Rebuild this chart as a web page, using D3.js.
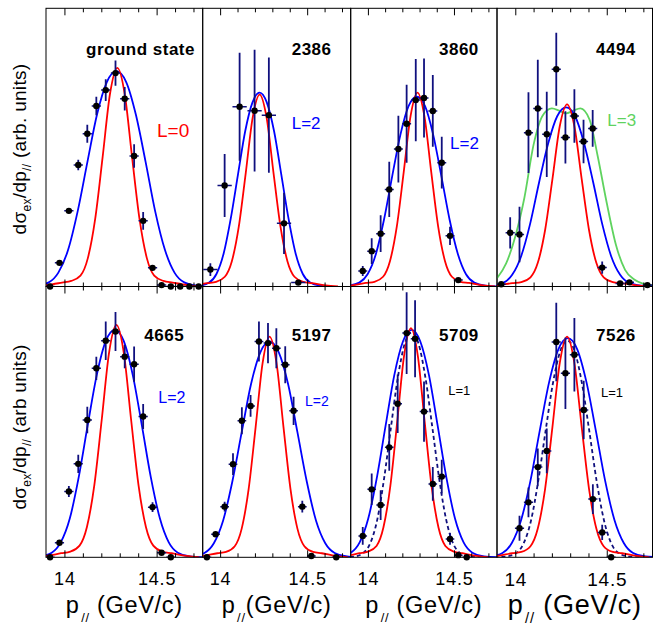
<!DOCTYPE html>
<html>
<head>
<meta charset="utf-8">
<script src="https://cdn.jsdelivr.net/npm/d3@7"></script>
<style>
  body { margin: 0; background: #fff; }
  svg { display: block; font-family: "Liberation Sans", Arial, Helvetica, sans-serif; }
</style>
</head>
<body>
<svg id="chart" width="657" height="627"></svg>
<script>
// ---- measured points: p_par (GeV/c), yield (arb.), vertical error
const pts0X = [13.922, 13.973, 14.024, 14.075, 14.124, 14.173, 14.224, 14.277, 14.327, 14.378, 14.427, 14.478, 14.527, 14.577, 14.628, 14.678, 14.728];
const pts0Y = [0, 0.085, 0.272, 0.437, 0.549, 0.649, 0.706, 0.767, 0.675, 0.469, 0.236, 0.067, 0.005, 0, 0, 0, 0];
const pts0E = [0, 0, 0.009, 0.019, 0.032, 0.033, 0.039, 0.045, 0.042, 0.042, 0.032, 0.008, 0, 0, 0, 0, 0];

const pts1X = [13.944, 14.026, 14.112, 14.198, 14.28, 14.367, 14.449];
const pts1Y = [0.061, 0.363, 0.646, 0.632, 0.616, 0.227, 0.014];
const pts1E = [0.023, 0.113, 0.194, 0.219, 0.207, 0.11, 0.005];

const pts2X = [13.970, 14.022, 14.074, 14.124, 14.177, 14.225, 14.278, 14.326, 14.377, 14.429, 14.477, 14.525];
const pts2Y = [0.056, 0.127, 0.19, 0.349, 0.494, 0.585, 0.670, 0.678, 0.631, 0.445, 0.182, 0.023];
const pts2E = [0.018, 0.046, 0.066, 0.099, 0.12, 0.14, 0.148, 0.142, 0.129, 0.093, 0.033, 0.006];

const pts3X = [13.923, 13.972, 14.023, 14.072, 14.123, 14.172, 14.224, 14.274, 14.323, 14.373, 14.423, 14.475, 14.573, 14.624, 14.722];
const pts3Y = [0.008, 0.193, 0.187, 0.553, 0.640, 0.547, 0.781, 0.536, 0.613, 0.521, 0.568, 0.068, 0.011, 0.015, 0.005];
const pts3E = [0, 0.056, 0.1, 0.145, 0.175, 0.153, 0.131, 0.094, 0.096, 0.078, 0.066, 0.022, 0, 0, 0];

const pts4X = [13.922, 13.973, 14.024, 14.075, 14.124, 14.173, 14.224, 14.277, 14.327, 14.378, 14.427, 14.478, 14.527, 14.577];
const pts4Y = [0, 0.054, 0.243, 0.345, 0.507, 0.698, 0.80, 0.834, 0.741, 0.713, 0.52, 0.185, 0.017, 0];
const pts4E = [0, 0.006, 0.02, 0.034, 0.049, 0.043, 0.071, 0.072, 0.043, 0.065, 0.046, 0.018, 0.005, 0];

const pts5X = [13.924, 13.974, 14.026, 14.074, 14.125, 14.175, 14.223, 14.275, 14.323, 14.374, 14.422, 14.472, 14.524, 14.667];
const pts5Y = [0, 0.085, 0.187, 0.344, 0.504, 0.559, 0.797, 0.791, 0.772, 0.711, 0.541, 0.187, 0.005, 0];
const pts5E = [0, 0.006, 0.018, 0.04, 0.05, 0.04, 0.074, 0.074, 0.074, 0.068, 0.052, 0.022, 0, 0];

const pts6X = [13.970, 14.022, 14.074, 14.124, 14.173, 14.225, 14.274, 14.326, 14.377, 14.429, 14.477, 14.525, 14.574];
const pts6Y = [0.079, 0.251, 0.193, 0.406, 0.567, 0.828, 0.807, 0.538, 0.271, 0.298, 0.068, 0.008, 0];
const pts6E = [0.033, 0.058, 0.055, 0.086, 0.108, 0.151, 0.142, 0.111, 0.062, 0.062, 0.022, 0, 0];

const pts7X = [14.023, 14.072, 14.123, 14.172, 14.224, 14.274, 14.323, 14.374, 14.424, 14.475, 14.524];
const pts7Y = [0.107, 0.203, 0.333, 0.393, 0.795, 0.68, 0.748, 0.544, 0.215, 0.092, 0];
const pts7E = [0.046, 0.055, 0.069, 0.083, 0.145, 0.132, 0.136, 0.108, 0.055, 0.028, 0];

// horizontal half-width of the bins per panel
const binHalf = [0.025, 0.041, 0.026, 0.025, 0.025, 0.025, 0.025, 0.025];

// ---- calculated momentum distributions
const redX0 = [13.837, 13.907, 13.987, 14.037, 14.087, 14.127, 14.167, 14.207, 14.247, 14.287, 14.327, 14.367, 14.407, 14.447, 14.487, 14.537, 14.587, 14.667, 14.737];
const redY0 = [0, 0.005, 0.014, 0.020, 0.039, 0.102, 0.244, 0.464, 0.692, 0.786, 0.692, 0.464, 0.244, 0.102, 0.039, 0.020, 0.014, 0.005, 0];
const blueX0 = [13.757, 13.845, 13.915, 13.967, 14.020, 14.072, 14.125, 14.177, 14.230, 14.282, 14.335, 14.387, 14.440, 14.492, 14.545, 14.597, 14.650, 14.720, 14.807];
const blueY0 = [0, 0.003, 0.015, 0.050, 0.132, 0.271, 0.449, 0.619, 0.735, 0.774, 0.735, 0.619, 0.449, 0.271, 0.132, 0.050, 0.015, 0.003, 0];

const redX1 = [13.777, 13.847, 13.927, 13.977, 14.027, 14.067, 14.107, 14.147, 14.187, 14.227, 14.267, 14.307, 14.347, 14.387, 14.427, 14.477, 14.527, 14.607, 14.677];
const redY1 = [0, 0.004, 0.012, 0.017, 0.035, 0.090, 0.214, 0.407, 0.607, 0.69, 0.607, 0.407, 0.214, 0.090, 0.035, 0.017, 0.012, 0.004, 0];
const blueX1 = [13.813, 13.882, 13.937, 13.979, 14.020, 14.061, 14.103, 14.144, 14.186, 14.227, 14.268, 14.310, 14.351, 14.393, 14.434, 14.475, 14.517, 14.572, 14.641];
const blueY1 = [0, 0.003, 0.014, 0.045, 0.118, 0.244, 0.404, 0.558, 0.662, 0.697, 0.662, 0.558, 0.404, 0.244, 0.118, 0.045, 0.014, 0.003, 0];

const redX2 = [13.838, 13.908, 13.988, 14.038, 14.088, 14.128, 14.168, 14.208, 14.248, 14.288, 14.328, 14.368, 14.408, 14.448, 14.488, 14.538, 14.588, 14.668, 14.738];
const redY2 = [0, 0.004, 0.013, 0.017, 0.035, 0.091, 0.216, 0.411, 0.613, 0.697, 0.613, 0.411, 0.216, 0.091, 0.035, 0.017, 0.013, 0.004, 0];
const blueX2 = [13.807, 13.887, 13.950, 13.998, 14.046, 14.093, 14.141, 14.189, 14.236, 14.284, 14.332, 14.379, 14.427, 14.475, 14.523, 14.570, 14.618, 14.682, 14.761];
const blueY2 = [0, 0.003, 0.014, 0.044, 0.116, 0.239, 0.396, 0.546, 0.648, 0.682, 0.648, 0.546, 0.396, 0.239, 0.116, 0.044, 0.014, 0.003, 0];

const redX3 = [13.833, 13.903, 13.983, 14.033, 14.083, 14.123, 14.163, 14.203, 14.243, 14.283, 14.323, 14.363, 14.403, 14.443, 14.483, 14.533, 14.583, 14.663, 14.733];
const redY3 = [0, 0.004, 0.012, 0.016, 0.033, 0.085, 0.203, 0.386, 0.576, 0.655, 0.576, 0.386, 0.203, 0.085, 0.033, 0.016, 0.012, 0.004, 0];
const blueX3 = [13.786, 13.868, 13.934, 13.983, 14.032, 14.081, 14.130, 14.180, 14.229, 14.278, 14.327, 14.376, 14.426, 14.475, 14.524, 14.573, 14.622, 14.688, 14.770];
const blueY3 = [0, 0.003, 0.013, 0.042, 0.109, 0.225, 0.374, 0.515, 0.612, 0.644, 0.612, 0.515, 0.374, 0.225, 0.109, 0.042, 0.013, 0.003, 0];
const greenX3 = [13.9, 13.95, 14.0, 14.05, 14.1, 14.15, 14.2, 14.24, 14.278, 14.316, 14.356, 14.406, 14.45, 14.5, 14.55, 14.6, 14.65, 14.7, 14.75];
const greenY3 = [0.03, 0.083, 0.18, 0.32, 0.51, 0.615, 0.64, 0.632, 0.622, 0.632, 0.64, 0.6, 0.47, 0.3, 0.15, 0.06, 0.025, 0.01, 0.004];

const redX4 = [13.832, 13.902, 13.982, 14.032, 14.082, 14.122, 14.162, 14.202, 14.242, 14.282, 14.322, 14.362, 14.402, 14.442, 14.482, 14.532, 14.582, 14.662, 14.732];
const redY4 = [0, 0.005, 0.015, 0.021, 0.043, 0.112, 0.266, 0.506, 0.755, 0.858, 0.755, 0.506, 0.266, 0.112, 0.043, 0.021, 0.015, 0.005, 0];
const blueX4 = [13.784, 13.866, 13.931, 13.980, 14.029, 14.077, 14.126, 14.175, 14.224, 14.273, 14.322, 14.371, 14.420, 14.469, 14.518, 14.566, 14.615, 14.681, 14.762];
const blueY4 = [0, 0.003, 0.017, 0.055, 0.143, 0.294, 0.487, 0.672, 0.798, 0.84, 0.798, 0.672, 0.487, 0.294, 0.143, 0.055, 0.017, 0.003, 0];

const redX5 = [13.834, 13.904, 13.984, 14.034, 14.084, 14.124, 14.164, 14.204, 14.244, 14.284, 14.324, 14.364, 14.404, 14.444, 14.484, 14.534, 14.584, 14.664, 14.734];
const redY5 = [0, 0.005, 0.015, 0.020, 0.041, 0.106, 0.253, 0.481, 0.717, 0.815, 0.717, 0.481, 0.253, 0.106, 0.041, 0.020, 0.015, 0.005, 0];
const blueX5 = [13.750, 13.839, 13.910, 13.964, 14.017, 14.070, 14.124, 14.177, 14.231, 14.284, 14.337, 14.391, 14.444, 14.498, 14.551, 14.604, 14.658, 14.729, 14.818];
const blueY5 = [0, 0.003, 0.016, 0.052, 0.135, 0.279, 0.462, 0.638, 0.757, 0.797, 0.757, 0.638, 0.462, 0.279, 0.135, 0.052, 0.016, 0.003, 0];

const redX6 = [13.80, 13.87, 13.95, 14.00, 14.05, 14.09, 14.13, 14.17, 14.21, 14.25, 14.29, 14.33, 14.37, 14.41, 14.45, 14.50, 14.55, 14.63, 14.70];
const redY6 = [0, 0.005, 0.015, 0.021, 0.042, 0.110, 0.262, 0.499, 0.744, 0.846, 0.744, 0.499, 0.262, 0.110, 0.042, 0.021, 0.015, 0.005, 0];
const blueX6 = [13.750, 13.834, 13.901, 13.952, 14.002, 14.052, 14.103, 14.153, 14.204, 14.254, 14.304, 14.355, 14.405, 14.456, 14.506, 14.556, 14.607, 14.674, 14.758];
const blueY6 = [0, 0.003, 0.017, 0.055, 0.143, 0.294, 0.487, 0.672, 0.798, 0.84, 0.798, 0.672, 0.487, 0.294, 0.143, 0.055, 0.017, 0.003, 0];
const dashX6 = [13.855, 13.922, 13.975, 14.015, 14.055, 14.094, 14.134, 14.174, 14.214, 14.254, 14.294, 14.334, 14.374, 14.414, 14.454, 14.493, 14.533, 14.587, 14.653];
const dashY6 = [0, 0.003, 0.017, 0.054, 0.141, 0.291, 0.481, 0.664, 0.789, 0.83, 0.789, 0.664, 0.481, 0.291, 0.141, 0.054, 0.017, 0.003, 0];

const redX7 = [13.833, 13.903, 13.983, 14.033, 14.083, 14.123, 14.163, 14.203, 14.243, 14.283, 14.323, 14.363, 14.403, 14.443, 14.483, 14.533, 14.583, 14.663, 14.733];
const redY7 = [0, 0.005, 0.015, 0.020, 0.041, 0.106, 0.253, 0.481, 0.717, 0.815, 0.717, 0.481, 0.253, 0.106, 0.041, 0.020, 0.015, 0.005, 0];
const blueX7 = [13.777, 13.862, 13.930, 13.981, 14.032, 14.083, 14.134, 14.185, 14.236, 14.287, 14.338, 14.389, 14.440, 14.491, 14.542, 14.593, 14.644, 14.712, 14.797];
const blueY7 = [0, 0.003, 0.016, 0.053, 0.138, 0.283, 0.469, 0.647, 0.769, 0.809, 0.769, 0.647, 0.469, 0.283, 0.138, 0.053, 0.016, 0.003, 0];
const dashX7 = [13.886, 13.953, 14.006, 14.046, 14.086, 14.125, 14.165, 14.205, 14.245, 14.285, 14.325, 14.365, 14.405, 14.445, 14.485, 14.524, 14.564, 14.618, 14.684];
const dashY7 = [0, 0.003, 0.016, 0.052, 0.136, 0.28, 0.464, 0.64, 0.76, 0.80, 0.76, 0.64, 0.464, 0.28, 0.136, 0.052, 0.016, 0.003, 0];

// ---- labels
const stateLabels = ["ground state", "2386", "3860", "4494", "4665", "5197", "5709", "7526"];
const lLabels = ["L=0", "L=2", "L=2", "L=3", "L=2", "L=2", "L=1", "L=1"];
const majorTicks = [14, 14.5];
const minorTicks = [14.1, 14.2, 14.3, 14.4, 14.6, 14.7];
const pDomain = [13.9, 14.75];

const RED = '#ff0000', BLUE = '#0000ff', GREEN = '#5fd35f', NAVY = '#10107e';

const ptsX = [pts0X, pts1X, pts2X, pts3X, pts4X, pts5X, pts6X, pts7X];
const ptsY = [pts0Y, pts1Y, pts2Y, pts3Y, pts4Y, pts5Y, pts6Y, pts7Y];
const ptsE = [pts0E, pts1E, pts2E, pts3E, pts4E, pts5E, pts6E, pts7E];
const curves = [
  [{ x: blueX0, y: blueY0, c: BLUE }, { x: redX0, y: redY0, c: RED }],
  [{ x: blueX1, y: blueY1, c: BLUE }, { x: redX1, y: redY1, c: RED }],
  [{ x: blueX2, y: blueY2, c: BLUE }, { x: redX2, y: redY2, c: RED }],
  [{ x: greenX3, y: greenY3, c: GREEN }, { x: blueX3, y: blueY3, c: BLUE }, { x: redX3, y: redY3, c: RED }],
  [{ x: blueX4, y: blueY4, c: BLUE }, { x: redX4, y: redY4, c: RED }],
  [{ x: blueX5, y: blueY5, c: BLUE }, { x: redX5, y: redY5, c: RED }],
  [{ x: blueX6, y: blueY6, c: BLUE }, { x: dashX6, y: dashY6, c: NAVY, dash: true }, { x: redX6, y: redY6, c: RED }],
  [{ x: blueX7, y: blueY7, c: BLUE }, { x: dashX7, y: dashY7, c: NAVY, dash: true }, { x: redX7, y: redY7, c: RED }],
];

// ---- layout
const colEdges = [46, 202.7, 350.7, 497, 652.5];
const rowEdges = [8.3, 286.5, 557.3];
const stateLabelPos = [[86, 55], [291.7, 55], [439, 55], [596, 55], [144.3, 341], [291.7, 341], [439, 341], [596, 341]];
const lLabelPos = [[157, 136.7, 19, RED], [291.7, 129.3, 17, BLUE], [450, 149, 17, BLUE], [607.3, 126, 17, GREEN],
  [158.3, 402.7, 16, BLUE], [305, 406, 14, BLUE], [448.3, 395, 13, '#000'], [601, 397.3, 13, '#000']];

const svg = d3.select('#chart');
svg.append('rect').attr('width', 657).attr('height', 627).attr('fill', '#fff');
const defs = svg.append('defs');

for (let i = 0; i < 8; i += 1) {
  const col = i % 4;
  const row = Math.floor(i / 4);
  const x0 = colEdges[col], x1 = colEdges[col + 1];
  const yTop = rowEdges[row], yBot = rowEdges[row + 1];
  const x = d3.scaleLinear().domain(pDomain).range([x0, x1]);
  const y = d3.scaleLinear().domain([0, 1]).range([yBot, yTop]);
  const g = svg.append('g');

  defs.append('clipPath').attr('id', `clip${i}`)
    .append('rect').attr('x', x0).attr('y', yTop).attr('width', x1 - x0).attr('height', yBot - yTop);

  const line = d3.line().x((d) => x(d[0])).y((d) => y(d[1])).curve(d3.curveMonotoneX);
  const cg = g.append('g').attr('clip-path', `url(#clip${i})`);
  curves[i].forEach((cv) => {
    cg.append('path')
      .attr('d', line(d3.zip(cv.x, cv.y)))
      .attr('fill', 'none')
      .attr('stroke', cv.c)
      .attr('stroke-width', 1.8)
      .attr('stroke-dasharray', cv.dash ? '4,3' : null);
  });

  // data points
  const pts = d3.zip(ptsX[i], ptsY[i], ptsE[i]);
  const pg = g.append('g').attr('clip-path', `url(#clip${i})`);
  pg.selectAll('line.ey').data(pts.filter((d) => d[2] > 0)).join('line')
    .attr('x1', (d) => x(d[0])).attr('x2', (d) => x(d[0]))
    .attr('y1', (d) => y(d[1] - d[2])).attr('y2', (d) => y(d[1] + d[2]))
    .attr('stroke', NAVY).attr('stroke-width', 1.8);
  pg.selectAll('line.ex').data(pts).join('line')
    .attr('x1', (d) => x(d[0] - binHalf[i])).attr('x2', (d) => x(d[0] + binHalf[i]))
    .attr('y1', (d) => y(d[1])).attr('y2', (d) => y(d[1]))
    .attr('stroke', NAVY).attr('stroke-width', 1.5);
  g.selectAll('circle').data(pts).join('circle')
    .attr('cx', (d) => x(d[0])).attr('cy', (d) => y(d[1])).attr('r', 3.2)
    .attr('fill', '#000');

  // ticks on top and bottom edges, pointing inwards
  const bottom = g.append('g').attr('transform', `translate(0,${yBot})`);
  bottom.append('g').call(d3.axisBottom(x).tickValues(minorTicks).tickSize(-4).tickFormat(''));
  const bMaj = bottom.append('g').call(d3.axisBottom(x).tickValues(majorTicks).tickSize(-7).tickPadding(15)
    .tickFormat((d) => (row === 1 ? String(d) : '')));
  const top = g.append('g').attr('transform', `translate(0,${yTop})`);
  top.append('g').call(d3.axisTop(x).tickValues(minorTicks).tickSize(-4).tickFormat(''));
  top.append('g').call(d3.axisTop(x).tickValues(majorTicks).tickSize(-7).tickFormat(''));
  g.selectAll('.domain').remove();
  g.selectAll('.tick line').attr('stroke', '#000');
  bMaj.selectAll('text').attr('font-size', col === 3 ? 19 : 18).attr('letter-spacing', 0.8)
    .attr('fill', '#000').attr('font-family', '"Liberation Sans", Arial, sans-serif');

  // frame
  g.append('rect').attr('x', x0).attr('y', yTop).attr('width', x1 - x0).attr('height', yBot - yTop)
    .attr('fill', 'none').attr('stroke', '#000').attr('stroke-width', 1);

  g.append('text').attr('x', stateLabelPos[i][0]).attr('y', stateLabelPos[i][1])
    .attr('font-size', 17).attr('font-weight', 'bold').attr('letter-spacing', 0.5).text(stateLabels[i]);
  const lp = lLabelPos[i];
  g.append('text').attr('x', lp[0]).attr('y', lp[1]).attr('font-size', lp[2]).attr('fill', lp[3]).text(lLabels[i]);

  // x-axis title under the bottom row
  if (row === 1) {
    const fs = col === 3 ? 27 : 23.5;
    const t = g.append('text').attr('x', (x0 + x1) / 2).attr('y', col === 3 ? 614 : 612.7)
      .attr('text-anchor', 'middle').attr('font-size', fs).attr('letter-spacing', fs * 0.03);
    t.append('tspan').text('p');
    t.append('tspan').attr('font-size', fs * 0.55).attr('dy', 9).attr('dx', 1.5).text('//');
    t.append('tspan').attr('dy', -9).text(col === 1 ? '(GeV/c)' : ' (GeV/c)');
  }
}

// y-axis titles
[[149, ' (arb. units)'], [427, ' (arb units)']].forEach(([cy, tail]) => {
  const t = svg.append('text').attr('transform', `translate(26,${cy}) rotate(-90)`)
    .attr('text-anchor', 'middle').attr('font-size', 19).attr('letter-spacing', 0.3);
  t.append('tspan').text('dσ');
  t.append('tspan').attr('font-size', 12).attr('dy', 5).text('ex');
  t.append('tspan').attr('dy', -5).text('/dp');
  t.append('tspan').attr('font-size', 12).attr('dy', 5).text('//');
  t.append('tspan').attr('dy', -5).text(tail);
});
</script>
</body>
</html>
